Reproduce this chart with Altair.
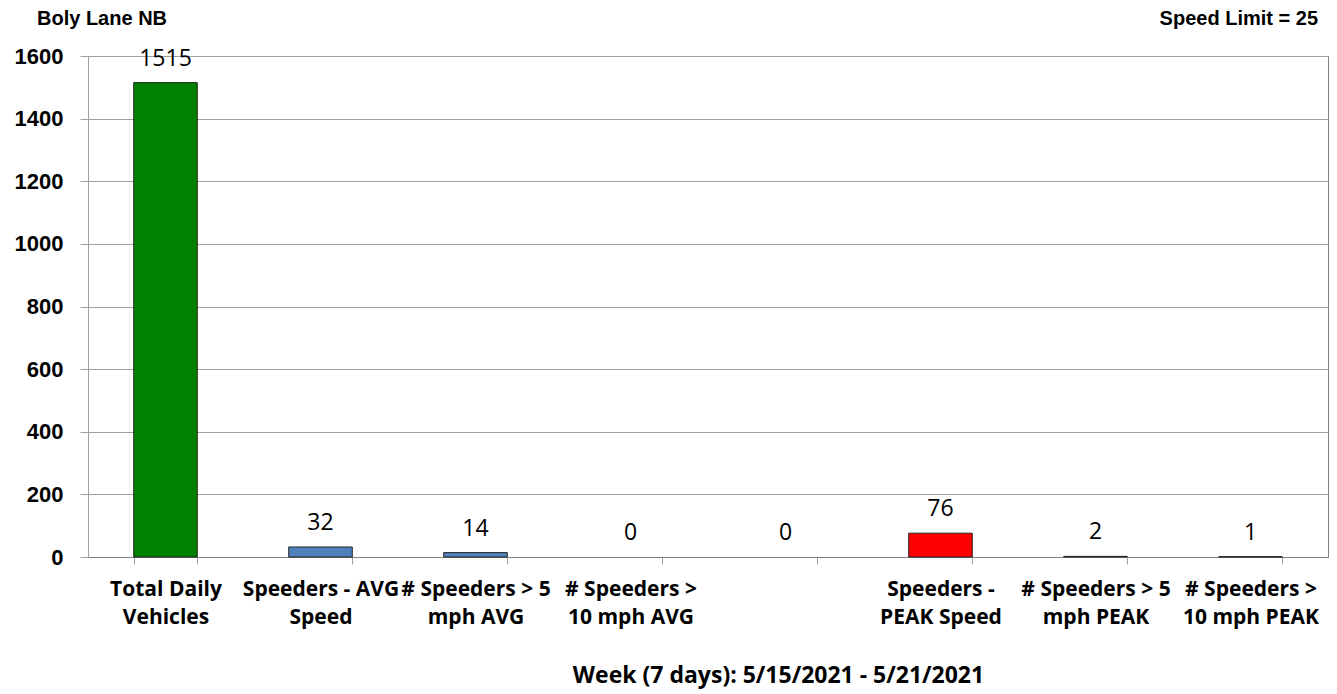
import altair as alt
import pandas as pd

categories = ["Total Daily|Vehicles", "Speeders - AVG|Speed", "# Speeders > 5|mph AVG",
              "# Speeders >|10 mph AVG", " ", "Speeders -|PEAK Speed",
              "# Speeders > 5|mph PEAK", "# Speeders >|10 mph PEAK"]
values = [1515, 32, 14, 0, 0, 76, 2, 1]
bar_colors = ["#008000", "#4F81BD", "#4F81BD", "#4F81BD", "#4F81BD", "#FF0000", "#4F81BD", "#4F81BD"]

title_left = "Boly Lane NB"
title_right = "Speed Limit = 25"
x_title = "Week (7 days): 5/15/2021 - 5/21/2021"
y_ticks = [0, 200, 400, 600, 800, 1000, 1200, 1400, 1600]

df = pd.DataFrame({"cat": categories, "val": values, "color": bar_colors})

x_enc = alt.X("cat:N", sort=categories,
              scale=alt.Scale(paddingInner=0.59, paddingOuter=0.295),
              axis=alt.Axis(title=x_title, labelExpr="split(datum.label, '|')",
                            labelAngle=0, labelFont="Open Sans", labelFontWeight="bold",
                            labelFontSize=21, labelLineHeight=28, labelBaseline="alphabetic",
                            labelPadding=31, labelColor="black", tickBand="extent",
                            tickSize=7, tickColor="#A0A0A0", domainColor="#808080",
                            grid=False, labelLimit=300,
                            titleFont="Open Sans", titleFontWeight="bold", titleFontSize=23,
                            titleColor="black", titleX=690, titleY=125,
                            titleBaseline="alphabetic", titleAnchor="middle"))

y_enc = alt.Y("val:Q", scale=alt.Scale(domain=[0, 1600], nice=False),
              axis=alt.Axis(title=None, values=y_ticks, format="d", labelFont="Liberation Sans",
                            labelFontWeight="bold", labelFontSize=22, labelColor="black",
                            labelPadding=17, tickSize=8, tickColor="#A0A0A0",
                            domainColor="#A0A0A0", gridColor="#A0A0A0", grid=True))

bars = alt.Chart(df).mark_bar(stroke="#222222", strokeWidth=1).encode(
    x=x_enc, y=y_enc,
    color=alt.Color("color:N", scale=None, legend=None),
    opacity=alt.condition("datum.val > 0", alt.value(1), alt.value(0)),
)

labels = alt.Chart(df).mark_text(font="Open Sans", fontSize=23, color="black",
                                 baseline="alphabetic", dy=-17).encode(
    x=alt.X("cat:N", sort=categories), y="val:Q", text="val:Q")

tl = alt.Chart(pd.DataFrame({"t": [title_left]})).mark_text(
    font="Liberation Sans", fontWeight="bold", fontSize=20, align="left",
    baseline="alphabetic", color="black").encode(
    x=alt.value(-51), y=alt.value(-31), text="t:N")

tr = alt.Chart(pd.DataFrame({"t": [title_right]})).mark_text(
    font="Liberation Sans", fontWeight="bold", fontSize=20, align="right",
    baseline="alphabetic", color="black").encode(
    x=alt.value(1230), y=alt.value(-31), text="t:N")

chart = alt.layer(bars, labels, tl, tr).properties(
    width=1240, height=501,
    autosize=alt.AutoSizeParams(type="none"),
    padding={"left": 80, "top": 48, "right": 1, "bottom": 136},
).configure_view(stroke="#808080", strokeWidth=1)

chart.save("out.html", embed_options={"renderer": "svg", "actions": False})
